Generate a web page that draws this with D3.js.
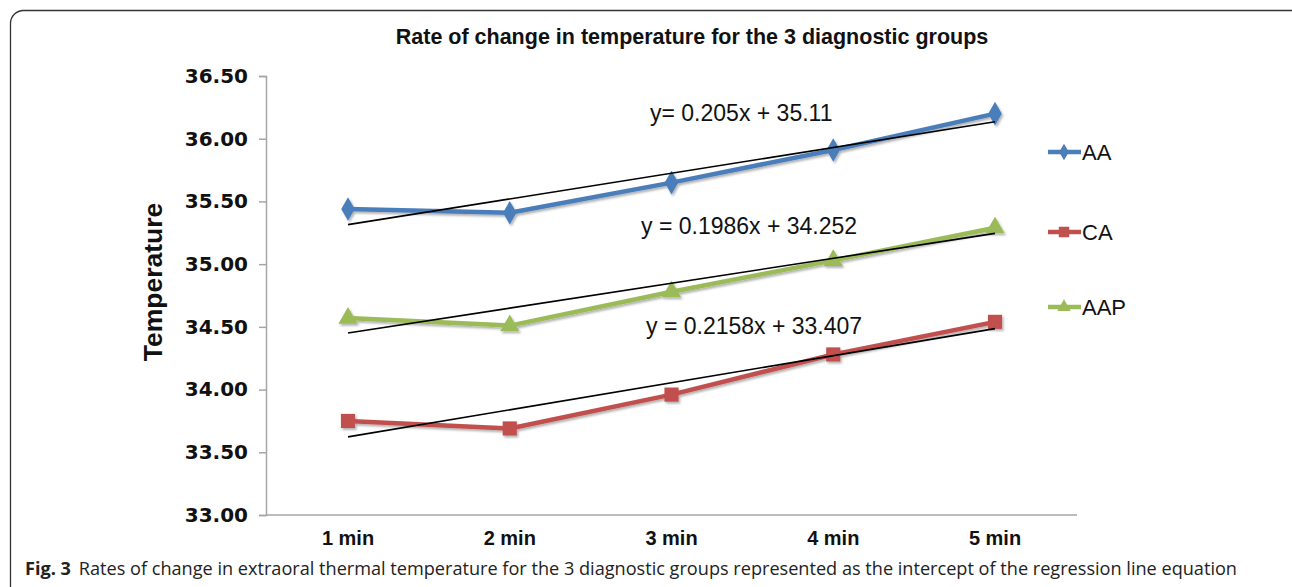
<!DOCTYPE html>
<html lang="en">
<head>
  <meta charset="UTF-8">
  <title>Rate of change in temperature</title>
  <style>
    body { margin: 0; background: #fff; }
    svg { display: block; }
  </style>
</head>
<body>
  <div id="chart"></div>

  <script src="https://d3js.org/d3.v7.min.js"></script>
  <script>
    // data
    const categories = ["1 min", "2 min", "3 min", "4 min", "5 min"];
    const seriesNames = ["AA", "CA", "AAP"];
    const aaValues = [35.44, 35.41, 35.65, 35.91, 36.20];
    const caValues = [33.75, 33.69, 33.96, 34.28, 34.54];
    const aapValues = [34.57, 34.51, 34.78, 35.03, 35.29];
    const yTicks = [33.0, 33.5, 34.0, 34.5, 35.0, 35.5, 36.0, 36.5];
    // regression lines: slope, intercept, label
    const trendSlopes = [0.205, 0.2158, 0.1986];
    const trendIntercepts = [35.11, 33.407, 34.252];
    const trendLabels = ["y= 0.205x + 35.11", "y = 0.2158x + 33.407", "y = 0.1986x + 34.252"];

    const W = 1292, H = 587;
    const colors = ["#4a7ebb", "#c0504d", "#9bbb59"];
    const shapes = [d3.symbolDiamond, d3.symbolSquare, d3.symbolTriangle];

    const svg = d3.select("#chart").append("svg")
      .attr("width", W).attr("height", H);

    // drop shadow like excel markers
    const defs = svg.append("defs");
    const f = defs.append("filter").attr("id", "shadow")
      .attr("x", "-20%").attr("y", "-20%").attr("width", "150%").attr("height", "150%");
    f.append("feDropShadow").attr("dx", 1.5).attr("dy", 2).attr("stdDeviation", 1.2)
      .attr("flood-color", "#000").attr("flood-opacity", 0.3);

    // frame
    svg.append("rect")
      .attr("x", 10.5).attr("y", 10.5)
      .attr("width", 1300).attr("height", 590)
      .attr("rx", 13)
      .attr("fill", "none").attr("stroke", "#333").attr("stroke-width", 1.3);

    const x = d3.scalePoint().domain(categories).range([348, 995]);
    const xAxisEnd = 1077;
    const y = d3.scaleLinear().domain([33, 36.5]).range([515, 76]);

    // title
    svg.append("text")
      .attr("x", 692).attr("y", 44)
      .attr("text-anchor", "middle")
      .style("font-family", "Liberation Sans, Arial, sans-serif")
      .style("font-weight", "bold").style("font-size", "21.5px")
      .attr("fill", "#111")
      .text("Rate of change in temperature for the 3 diagnostic groups");

    // y axis
    const yAxis = svg.append("g")
      .attr("transform", "translate(266,0)")
      .call(d3.axisLeft(y).tickValues(yTicks).tickFormat(d3.format(".2f")).tickSize(7).tickPadding(11));
    yAxis.select(".domain").attr("stroke", "#a6a6a6").attr("stroke-width", 1.5);
    yAxis.selectAll(".tick line").attr("stroke", "#a6a6a6").attr("stroke-width", 1.5);
    yAxis.selectAll(".tick text")
      .style("font-family", "DejaVu Sans, Verdana, sans-serif")
      .style("font-weight", "bold").style("font-size", "20px")
      .attr("fill", "#111");

    // x axis line (no ticks)
    svg.append("line")
      .attr("x1", 266).attr("x2", xAxisEnd)
      .attr("y1", y(33)).attr("y2", y(33))
      .attr("stroke", "#a6a6a6").attr("stroke-width", 1.5);

    svg.append("g").selectAll("text")
      .data(categories).enter().append("text")
      .attr("x", d => x(d)).attr("y", 545)
      .attr("text-anchor", "middle")
      .style("font-family", "Liberation Sans, Arial, sans-serif")
      .style("font-weight", "bold").style("font-size", "20px")
      .attr("fill", "#111")
      .text(d => d);

    // y title
    svg.append("text")
      .attr("transform", "translate(162,282) rotate(-90)")
      .attr("text-anchor", "middle")
      .style("font-family", "Liberation Sans, Arial, sans-serif")
      .style("font-weight", "bold").style("font-size", "26.5px")
      .attr("fill", "#111")
      .text("Temperature");

    const seriesValues = [aaValues, caValues, aapValues];
    const line = d3.line().x((d, i) => x(categories[i])).y(d => y(d));

    const plot = svg.append("g");

    // series lines + markers
    seriesValues.forEach((vals, s) => {
      const g = plot.append("g").attr("filter", "url(#shadow)");
      g.append("path")
        .datum(vals)
        .attr("d", line)
        .attr("fill", "none")
        .attr("stroke", colors[s])
        .attr("stroke-width", 4.5)
        .attr("stroke-linejoin", "round");
      g.selectAll("path.mk")
        .data(vals).enter().append("path")
        .attr("class", "mk")
        .attr("transform", (d, i) => `translate(${x(categories[i])},${y(d)})`)
        .attr("d", d3.symbol().type(shapes[s]).size(s === 0 ? 160 : s === 1 ? 200 : 160))
        .attr("fill", colors[s]);
    });

    // trend lines
    trendSlopes.forEach((m, s) => {
      const b = trendIntercepts[s];
      plot.append("line")
        .attr("x1", x(categories[0])).attr("y1", y(m * 1 + b))
        .attr("x2", x(categories[4])).attr("y2", y(m * 5 + b))
        .attr("stroke", "#000").attr("stroke-width", 1.6);
    });

    // equation labels
    const eqPos = [[650, 121], [646, 334], [641, 234]];
    svg.append("g").selectAll("text")
      .data(trendLabels).enter().append("text")
      .attr("x", (d, i) => eqPos[i][0]).attr("y", (d, i) => eqPos[i][1])
      .style("font-family", "Liberation Sans Narrow, Arial Narrow, sans-serif")
      .style("font-size", "23px")
      .attr("fill", "#111")
      .text(d => d);

    // legend
    const legendY = [152, 232, 307];
    const legend = svg.append("g");
    seriesNames.forEach((name, s) => {
      const g = legend.append("g").attr("transform", `translate(1048,${legendY[s]})`);
      g.append("line").attr("x1", 0).attr("x2", 33)
        .attr("stroke", colors[s]).attr("stroke-width", 4.5);
      g.append("path").attr("transform", "translate(16,0)")
        .attr("d", d3.symbol().type(shapes[s]).size(s === 1 ? 110 : 80))
        .attr("fill", colors[s]);
      g.append("text").attr("x", 34).attr("y", 8)
        .style("font-family", "Liberation Sans Narrow, Arial Narrow, sans-serif")
        .style("font-size", "22px")
        .attr("fill", "#111")
        .text(name);
    });

    // caption
    const cap = svg.append("text")
      .attr("x", 25).attr("y", 575)
      .attr("textLength", 1212)
      .attr("lengthAdjust", "spacingAndGlyphs")
      .style("font-family", "Open Sans, Noto Sans, sans-serif")
      .style("font-size", "18.5px")
      .attr("fill", "#222");
    cap.append("tspan").style("font-weight", "bold").text("Fig. 3");
    cap.append("tspan").attr("dx", 8)
      .text("Rates of change in extraoral thermal temperature for the 3 diagnostic groups represented as the intercept of the regression line equation");
  </script>
</body>
</html>
